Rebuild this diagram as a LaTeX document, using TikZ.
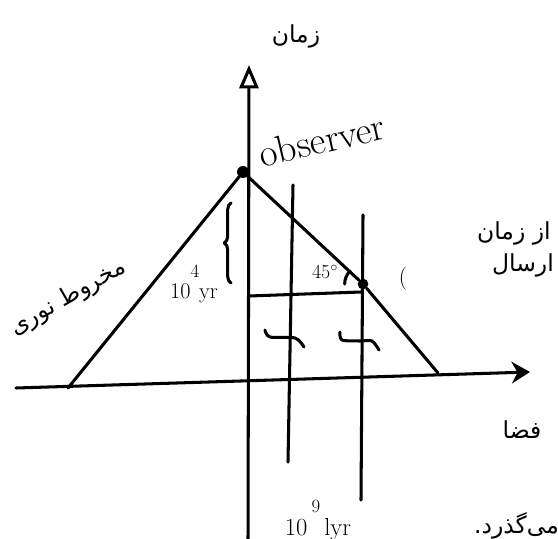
\documentclass[tikz,border=0pt]{standalone}
\usepackage{fontspec}
\newfontfamily\farsi[Script=Arabic]{DejaVu Sans}
\TeXXeTstate=1
\usetikzlibrary{
    arrows.meta,
    calc,
    decorations.pathreplacing
}
\newcommand{\upnum}[1]{\raisebox{0.9em}{\fontsize{16}{18}\selectfont #1}}

\begin{document}
\begin{tikzpicture}[x=0.03cm, y=-0.03cm,
    ink/.style={line width=2.6pt, line cap=round, line join=round},
    dot/.style={circle, fill=black, inner sep=0pt, minimum size=0.36cm},
    farsitext/.style={font=\farsi\fontsize{20}{26}\selectfont}]
    \useasboundingbox (0,0) rectangle (558,539);

    % Axes
    \coordinate (tbot) at (248,545);
    \coordinate (ttop) at (249,65);
    \coordinate (xl) at (16,388);
    \coordinate (xr) at (530,372);
    \draw[ink, -{Triangle[open, length=0.7cm, width=0.57cm]}] (tbot) -- (ttop);
    \draw[ink, -{Stealth[length=0.55cm, width=0.65cm]}] (xl) -- (xr);
    \node[farsitext] (time) at (296,36) {\beginR زمان\endR};
    \node[farsitext] (space) at (522,430) {\beginR فضا\endR};

    % Observer and light cone
    \node[dot] (obs) at (243,172) {};
    \node[dot, minimum size=0.32cm] (ev) at (363,284) {};
    \node[font=\fontsize{33}{38}\selectfont, rotate=13] (obslabel) at (322,140) {observer};
    \coordinate (cl) at (68,388);
    \coordinate (cr) at (438,373);
    \draw[ink] (cl) -- (obs) -- (ev) -- (cr);
    \node[farsitext, rotate=30] (cone) at (68,298) {\beginR مخروط نوری\endR};

    % World lines
    \coordinate (v1t) at (293,185);
    \coordinate (v1b) at (288,462);
    \coordinate (v2t) at (363,215);
    \coordinate (v2b) at (361,500);
    \draw[ink] (v1t) -- (v1b);
    \draw[ink] (v2t) -- (v2b);
    \draw[ink] plot[smooth] coordinates {(265,330) (270,337) (295,338) (304,347)};
    \draw[ink] plot[smooth] coordinates {(340,332) (342,340) (360,341) (372,341) (379,350)};

    % Time interval and angle
    \coordinate (h0) at (249,296);
    \coordinate (h1) at (361,292);
    \draw[ink] (h0) -- (h1);
    \draw[ink] ($(ev)+(180:0.55cm)$) arc[start angle=180, end angle=135, radius=0.55cm];
    \node[font=\fontsize{17}{19}\selectfont] (ang) at (325,272) {45$^\circ$};
    \node[font=\fontsize{20}{24}\selectfont] (paren) at (403,279) {(};
    \draw[ink, decorate, decoration={brace, amplitude=0.2cm}] (231,283) -- (231,203);
    \node[font=\fontsize{19}{21}\selectfont, anchor=base] (dt) at (194,298) {10\upnum{4}yr};
    \node[font=\fontsize{21}{24}\selectfont, anchor=base] (dx) at (318,535) {10\,\upnum{9}\,lyr};

    % Note on the right
    \node[farsitext, anchor=base west] (note1) at (473,240) {\beginR از زمان\endR};
    \node[farsitext, anchor=base west] (note2) at (488,272) {\beginR ارسال\endR};
    \node[farsitext, anchor=base west] (note3) at (470,533) {\beginR می‌گذرد.\endR};
\end{tikzpicture}
\end{document}
